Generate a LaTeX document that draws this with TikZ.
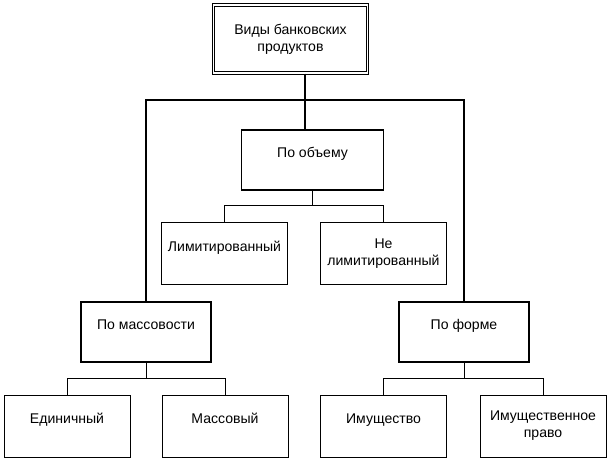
\documentclass[tikz,border=0pt]{standalone}
\usepackage{fontspec}
\setmainfont{Liberation Sans}
\usetikzlibrary{calc}
\tikzset{
    box/.style={draw=black, line width=0.4pt, minimum width=3.15cm, minimum height=1.55cm, align=center, font=\fontsize{10}{12}\selectfont},
    raised/.style={text height=1.6ex, text depth=0.42cm},
    headbox/.style={box, raised, line width=1.2pt, minimum width=3.25cm, minimum height=1.5cm},
    link/.style={draw=black, line width=0.5pt},
    thicklink/.style={draw=black, line width=1.2pt}
}
\begin{document}
\begin{tikzpicture}[x=0.025cm, y=-0.025cm]
    \useasboundingbox (0,0) rectangle (610,461);
    % top
    \node[box, double, double distance=1.2pt, line width=0.7pt, minimum width=3.85cm, minimum height=1.7cm] (kinds) at (290.5,39) {Виды банковских\\продуктов};
    \node[headbox, minimum width=3.55cm] (volume) at (312.5,160) {По объему};
    \node[box, raised] (limited) at (224.5,253.5) {Лимитированный};
    \node[box] (unlimited) at (383.5,253.5) {Не\\лимитированный};
    \node[headbox] (mass) at (146,332) {По массовости};
    \node[headbox] (form) at (464,332) {По форме};
    \node[box, raised] (single) at (67,426) {Единичный};
    \node[box, raised] (massive) at (225,426) {Массовый};
    \node[box, raised] (property) at (383.5,426) {Имущество};
    \node[box] (right) at (543,426) {Имущественное\\право};
    % thick connectors
    \coordinate (hub) at (305,100);
    \draw[thicklink] (kinds.south -| hub) -- (volume.north -| hub);
    \draw[thicklink] (mass.north) |- (hub) -| (form.north);
    % volume branch
    \draw[link] (volume.south) -- ++(0,14) coordinate (vjoin);
    \draw[link] (limited.north) |- (vjoin) -| (unlimited.north);
    % mass branch
    \draw[link] (mass.south) -- ++(0,15) coordinate (mjoin);
    \draw[link] (single.north) |- (mjoin) -| (massive.north);
    % form branch
    \draw[link] (form.south) -- ++(0,15) coordinate (fjoin);
    \draw[link] (property.north) |- (fjoin) -| (right.north);
\end{tikzpicture}
\end{document}
